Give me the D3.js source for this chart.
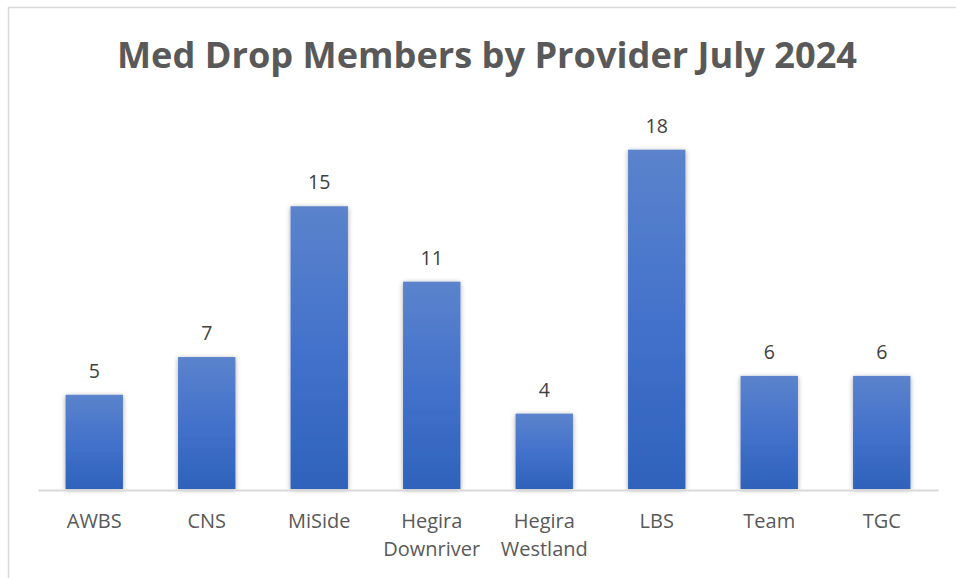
<!DOCTYPE html>
<html>
<head>
<meta charset="utf-8">
<script src="https://cdn.jsdelivr.net/npm/d3@7"></script>
<style>
    body { margin: 0; background: #fff; }
    text { font-family: "Open Sans", "Liberation Sans", sans-serif; }
</style>
</head>
<body>
<div class="canvas"></div>
<script>
// chart data
const providers = [['AWBS'], ['CNS'], ['MiSide'], ['Hegira', 'Downriver'], ['Hegira', 'Westland'], ['LBS'], ['Team'], ['TGC']];
const members = [5, 7, 15, 11, 4, 18, 6, 6];
const chartTitle = 'Med Drop Members by Provider July 2024';

const width = 956;
const height = 578;

const svg = d3.select('.canvas')
    .append('svg')
    .attr('width', width)
    .attr('height', height);

// gradient + shadow for the bars
const defs = svg.append('defs');
const grad = defs.append('linearGradient')
    .attr('id', 'barGrad')
    .attr('x1', 0).attr('y1', 0).attr('x2', 0).attr('y2', 1);
grad.append('stop').attr('offset', '0%').attr('stop-color', '#5b83cc');
grad.append('stop').attr('offset', '50%').attr('stop-color', '#4372cb');
grad.append('stop').attr('offset', '100%').attr('stop-color', '#2f62bb');

const shadow = defs.append('filter')
    .attr('id', 'shadow')
    .attr('x', '-30%').attr('y', '-10%')
    .attr('width', '160%').attr('height', '120%');
shadow.append('feDropShadow')
    .attr('dx', 0).attr('dy', 1)
    .attr('stdDeviation', 2.5)
    .attr('flood-color', '#000')
    .attr('flood-opacity', 0.35);

// chart frame (runs off the right and bottom edge)
svg.append('rect')
    .attr('x', 8.5)
    .attr('y', 7.5)
    .attr('width', 960)
    .attr('height', 600)
    .attr('fill', 'none')
    .attr('stroke', '#d9d9d9')
    .attr('stroke-width', 1.5);

// title
svg.append('text')
    .attr('x', 487)
    .attr('y', 68)
    .attr('text-anchor', 'middle')
    .attr('font-size', 35)
    .attr('font-weight', 700)
    .attr('fill', '#595959')
    .attr('textLength', 740)
    .attr('lengthAdjust', 'spacingAndGlyphs')
    .text(chartTitle);

const margin = { top: 112, left: 38, right: 18, bottom: 88 };
const graphWidth = width - margin.left - margin.right;
const graphHeight = 489 - margin.top;

const graph = svg.append('g')
    .attr('transform', `translate(${margin.left}, ${margin.top})`);

const names = providers.map(d => d.join(' '));

const x = d3.scaleBand()
    .domain(names)
    .range([0, graphWidth])
    .paddingInner(0.49)
    .paddingOuter(0.245);

const y = d3.scaleLinear()
    .domain([0, 20])
    .range([graphHeight, 0]);

// bars
graph.selectAll('rect.bar')
    .data(members)
    .enter()
    .append('rect')
    .attr('class', 'bar')
    .attr('x', (d, i) => x(names[i]))
    .attr('y', d => y(d))
    .attr('width', x.bandwidth())
    .attr('height', d => graphHeight - y(d))
    .attr('fill', 'url(#barGrad)')
    .attr('filter', 'url(#shadow)');

// value labels
graph.selectAll('text.value')
    .data(members)
    .enter()
    .append('text')
    .attr('class', 'value')
    .attr('x', (d, i) => x(names[i]) + x.bandwidth() / 2)
    .attr('y', d => y(d) - 17)
    .attr('text-anchor', 'middle')
    .attr('font-size', 19.5)
    .attr('fill', '#404040')
    .text(d => d);

// x axis
const xAxis = d3.axisBottom(x).tickSize(0).tickFormat('');
const xAxisGroup = graph.append('g')
    .attr('transform', `translate(0, ${graphHeight + 1})`)
    .call(xAxis);
xAxisGroup.select('.domain')
    .attr('stroke', '#d9d9d9')
    .attr('stroke-width', 2);

// category labels, possibly on two lines
xAxisGroup.selectAll('.tick')
    .each(function (d, i) {
        const t = d3.select(this).append('text')
            .attr('text-anchor', 'middle')
            .attr('font-size', 20)
            .attr('fill', '#595959');
        providers[i].forEach((line, j) => {
            t.append('tspan')
                .attr('x', 0)
                .attr('y', 38 + j * 28)
                .text(line);
        });
    });
</script>
</body>
</html>
